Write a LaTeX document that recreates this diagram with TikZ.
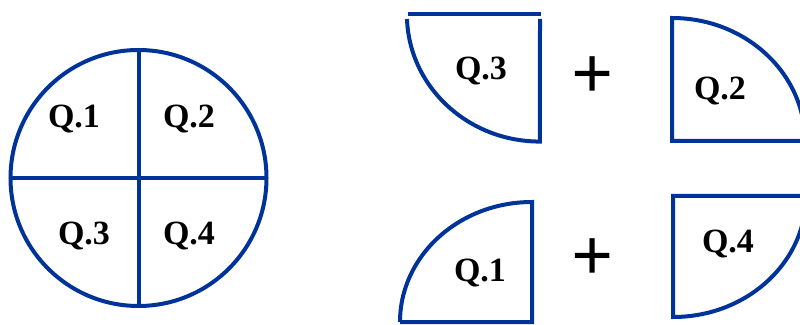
\documentclass[tikz,border=0pt]{standalone}
\usepackage{fontspec}
\setmainfont{Liberation Serif}
\definecolor{qblue}{RGB}{0,51,153}
\begin{document}
\begin{tikzpicture}[x=1pt,y=1pt,
  piece/.style={draw=qblue,line width=4pt},
  qlabel/.style={font=\fontsize{34}{34}\selectfont\bfseries,inner sep=0pt},
  plussign/.style={font=\fontsize{74}{74}\selectfont\bfseries,inner sep=0pt}]
\useasboundingbox (0,0) rectangle (800,324);
\clip (0,0) rectangle (800,324);
% whole circle
\coordinate (c) at (138.5,146);
\draw[piece] (c) circle (128);
\draw[piece] (138.5,274) -- (138.5,18);
\draw[piece] (10.5,146) -- (266.5,146);
\node[qlabel] (c1) at (74,205) {Q.1};
\node[qlabel] (c2) at (189,205) {Q.2};
\node[qlabel] (c3) at (84,88) {Q.3};
\node[qlabel] (c4) at (189,88) {Q.4};
% piece Q.3 (top left)
\draw[piece] (408,310) -- (541,310);
\draw[piece] (407,305) arc[start angle=182,end angle=270,x radius=133,y radius=127] -- (540,305);
\node[qlabel] (p3) at (481,253) {Q.3};
% piece Q.2 (top right)
\draw[piece] (806,183) -- (672,183) -- (672,306) arc[start angle=90,end angle=0,x radius=133,y radius=123];
\node[qlabel] (p2) at (720,233) {Q.2};
% piece Q.1 (bottom left)
\draw[piece] (400,2) -- (532,2) -- (532,122) arc[start angle=90,end angle=180,x radius=132,y radius=120];
\node[qlabel] (p1) at (480,51) {Q.1};
% piece Q.4 (bottom right)
\draw[piece] (806,128) -- (673,128) -- (673,7) arc[start angle=270,end angle=360,x radius=133,y radius=121];
\node[qlabel] (p4) at (728,80) {Q.4};
% plus signs
\node[plussign] (plusA) at (593,246) {+};
\node[plussign] (plusB) at (593,64) {+};
\end{tikzpicture}
\end{document}
